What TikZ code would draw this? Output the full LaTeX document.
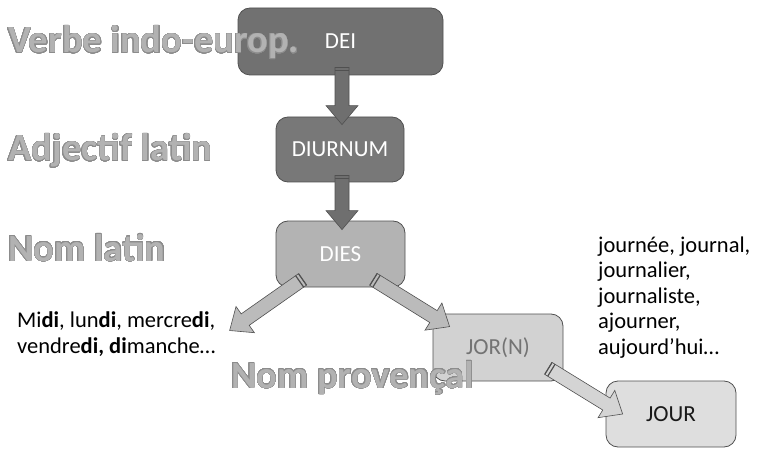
\documentclass[tikz,border=0pt]{standalone}
\usepackage{fontspec}
\setmainfont{Carlito}
\usepackage{contour}
\usetikzlibrary{calc}

\definecolor{boxline}{HTML}{505050}
\definecolor{deifill}{HTML}{717171}
\definecolor{diurnumfill}{HTML}{787878}
\definecolor{diesfill}{HTML}{B3B3B3}
\definecolor{jornfill}{HTML}{D2D2D2}
\definecolor{jourfill}{HTML}{DEDEDE}
\definecolor{darkarrow}{HTML}{6F6F6F}
\definecolor{lightarrow}{HTML}{BBBBBB}
\definecolor{palearrow}{HTML}{D4D4D4}
\definecolor{labelfill}{HTML}{B2B2B2}
\definecolor{labelline}{HTML}{8C8C8C}

\contourlength{0.4pt}
\contournumber{32}

\tikzset{
	box/.style={draw=boxline, line width=0.8pt, rounded corners=12pt, inner sep=0pt,
		font=\fontsize{23}{26}\selectfont},
	level/.style={anchor=base west, inner sep=0pt, text=labelfill,
		font=\bfseries\fontsize{38.5}{40}\selectfont},
	words/.style={anchor=base west, inner sep=0pt, align=left,
		font=\fontsize{22.5}{25.5}\selectfont}
}

% block arrow from #2 to #3, filled with #1
\newcommand{\blockarrow}[3]{
	\coordinate (head) at ($(#3)!19pt!(#2)$);
	\filldraw[draw=boxline, line width=0.6pt, fill=#1]
		($(#2)!7pt!90:(#3)$) -- ($(head)!7pt!-90:(#2)$) -- ($(head)!16pt!-90:(#2)$) -- (#3)
		-- ($(head)!16pt!90:(#2)$) -- ($(head)!7pt!90:(#2)$) -- ($(#2)!7pt!-90:(#3)$) -- cycle;
	\coordinate (tail) at ($(#2)!3.5pt!(#3)$);
	\draw[boxline, line width=1.2pt] ($(#2)!7pt!90:(#3)$) -- ($(#2)!7pt!-90:(#3)$);
	\draw[boxline, line width=1.2pt] ($(tail)!7pt!90:(#3)$) -- ($(tail)!7pt!-90:(#3)$);
}

\begin{document}
\begin{tikzpicture}[x=1pt, y=-1pt]
	\useasboundingbox (0,0) rectangle (757,449);

	% draw boxes
	\node[box, fill=deifill, text=white, minimum width=205pt, minimum height=67pt] (dei) at (340.5,41.5) {DEI};
	\node[box, fill=diurnumfill, text=white, minimum width=128pt, minimum height=65pt] (diurnum) at (340,149.5) {DIURNUM};
	\node[box, fill=diesfill, text=white, minimum width=129pt, minimum height=66pt] (dies) at (340.5,254) {DIES};
	\node[box, fill=jornfill, text=black!55, minimum width=130pt, minimum height=67pt] (jorn) at (498,347.5) {JOR(N)};
	\node[box, fill=jourfill, text=black!90, minimum width=130pt, minimum height=66pt] (jour) at (671,414) {JOUR};

	% draw word lists (base = last line)
	\node[words] (midi) at (17,353) {Mi\textbf{di}, lun\textbf{di}, mercre\textbf{di},\\vendre\textbf{di, di}manche…};
	\node[words] (journee) at (598,354) {journée, journal,\\journalier,\\journaliste,\\ajourner,\\aujourd’hui…};

	% draw arrows
	\coordinate (a1s) at ($(dei.south)+(1.5pt,8pt)$);
	\coordinate (a1e) at ($(diurnum.north)+(2pt,-8pt)$);
	\blockarrow{darkarrow}{a1s}{a1e}
	\coordinate (a2s) at ($(diurnum.south)+(2pt,7pt)$);
	\coordinate (a2e) at ($(dies.north)+(1.5pt,-9pt)$);
	\blockarrow{darkarrow}{a2s}{a2e}
	\coordinate (a3s) at ($(dies.south)+(-38pt,8pt)$);
	\coordinate (a3e) at ($(midi.north east)+(14pt,-19pt)$);
	\blockarrow{lightarrow}{a3s}{a3e}
	\coordinate (a4s) at ($(dies.south)+(33pt,8pt)$);
	\coordinate (a4e) at ($(jorn.north west)+(17pt,-13pt)$);
	\blockarrow{lightarrow}{a4s}{a4e}
	\coordinate (a5s) at ($(jorn.south east)+(-15pt,13pt)$);
	\coordinate (a5e) at ($(jour.west)+(17pt,0pt)$);
	\blockarrow{palearrow}{a5s}{a5e}

	% draw level labels
	\node[level] (verbe) at (8,53) {\contour{labelline}{Verbe indo-europ.}};
	\node[level] (adjectif) at (8,161) {\contour{labelline}{Adjectif latin}};
	\node[level] (nomlatin) at (8,261) {\contour{labelline}{Nom latin}};
	\node[level] (nomprov) at (231,388) {\contour{labelline}{Nom provençal}};
\end{tikzpicture}
\end{document}
